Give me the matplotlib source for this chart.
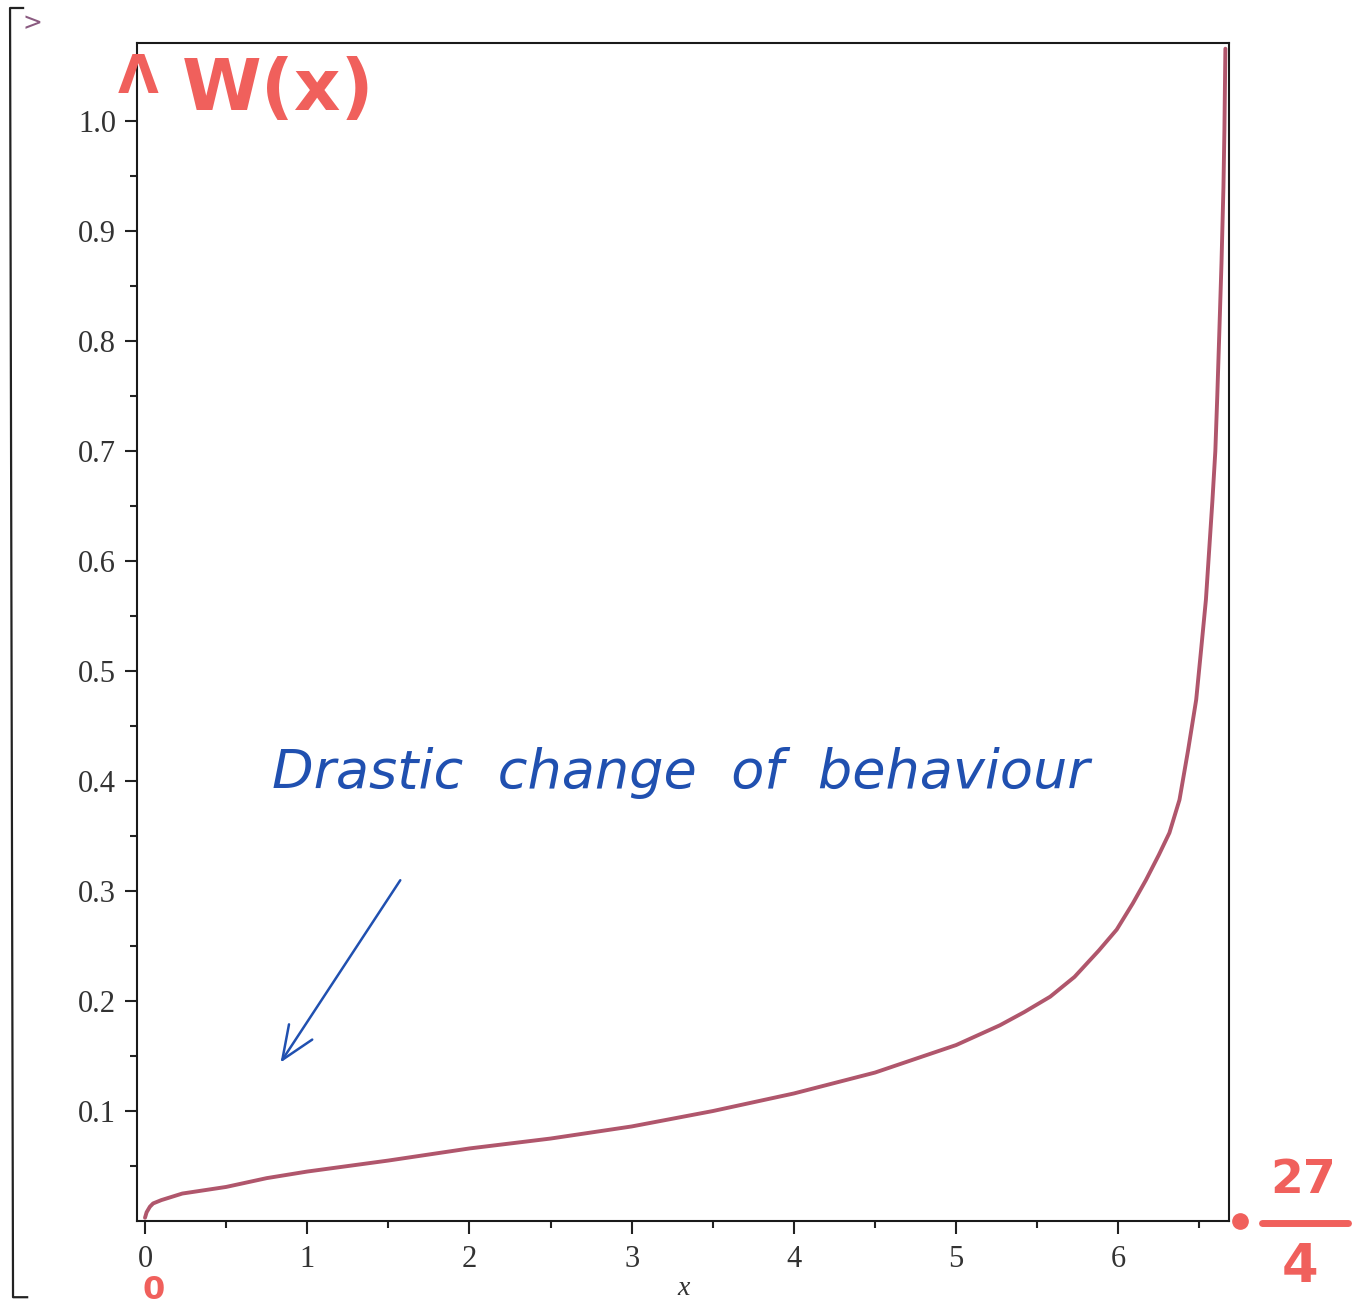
import numpy as np
import matplotlib
matplotlib.use('Agg')
import matplotlib.pyplot as plt
from matplotlib.lines import Line2D

## curve ##
x_vals = [0.0, 0.01, 0.03, 0.05, 0.1, 0.23, 0.5, 0.75, 1.0, 1.5, 2.0, 2.5, 3.0, 3.5,
          4.0, 4.5, 5.0, 5.27, 5.42, 5.58, 5.73, 5.88, 5.99, 6.09, 6.17, 6.25, 6.315,
          6.377, 6.43, 6.48, 6.51, 6.54, 6.56, 6.58, 6.598, 6.61, 6.623, 6.636, 6.648,
          6.654, 6.66]
w_vals = [0.003, 0.008, 0.013, 0.016, 0.019, 0.025, 0.031, 0.039, 0.045, 0.055, 0.066,
          0.075, 0.086, 0.100, 0.116, 0.135, 0.160, 0.178, 0.190, 0.204, 0.222, 0.246,
          0.265, 0.289, 0.310, 0.333, 0.353, 0.383, 0.428, 0.474, 0.519, 0.565, 0.610,
          0.655, 0.700, 0.750, 0.810, 0.871, 0.940, 0.992, 1.066]

xticks = [0, 1, 2, 3, 4, 5, 6]
yticks = [0.1, 0.2, 0.3, 0.4, 0.5, 0.6, 0.7, 0.8, 0.9, 1.0]
end_pt = 27 / 4

curve_col = '#b0566c'
pen_red = '#f0605c'
pen_blue = '#2050b0'

fig = plt.figure(figsize=(13.57, 13.09), dpi=100)
ax = fig.add_axes([0.101, 0.0672, 0.805, 0.8998])

ax.plot(x_vals, w_vals, color=curve_col, lw=2.8, solid_capstyle='round',
        solid_joinstyle='round')
ax.set_xlim(-0.049, 6.685)
ax.set_ylim(0, 1.071)

ax.set_xticks(xticks)
ax.set_xticks(np.arange(0.5, 6.6, 1.0), minor=True)
ax.set_yticks(yticks)
ax.set_yticks(np.arange(0.05, 1.06, 0.1), minor=True)
ax.set_yticklabels(['%.1f' % v for v in yticks])
ax.tick_params(which='major', length=9, width=1.5, direction='out', colors='#222222',
               labelsize=22, pad=6)
ax.tick_params(which='minor', length=5, width=1.5, direction='out', colors='#222222')
ax.tick_params(axis='x', which='major', pad=8)
for lab in ax.get_xticklabels() + ax.get_yticklabels():
    lab.set_family('Liberation Serif')
    lab.set_color('#333333')
for sp in ax.spines.values():
    sp.set_linewidth(1.5)
    sp.set_color('#1a1a1a')
ax.set_xlabel('x', fontsize=20, family='Liberation Serif', style='italic',
              color='#333333', labelpad=2)

# hand-written annotations
ax.plot([end_pt], [0], 'o', color=pen_red, ms=11, clip_on=False)
ax.annotate('', xy=(0.826, 0.142), xytext=(1.583, 0.312),
            arrowprops=dict(arrowstyle='->,head_length=2.4,head_width=1.0',
                            color=pen_blue, lw=1.8))
ax.text(0.78, 0.394, 'Drastic  change  of  behaviour', fontsize=39, color=pen_blue,
        style='italic', family='DejaVu Sans', ha='left', va='baseline')

fig.text(0.1017, 0.9404, '\u039b', fontsize=38, color=pen_red, ha='center', va='center',
         fontweight='bold')
fig.text(0.205, 0.931, 'W(x)', fontsize=52, color=pen_red, ha='center', va='center',
         fontweight='bold')
fig.text(0.113, 0.002, '0', fontsize=23, color=pen_red, ha='center', va='bottom',
         fontweight='bold')
fig.text(0.96, 0.098, '27', fontsize=34, color=pen_red, ha='center', va='center',
         fontweight='bold')
fig.text(0.958, 0.032, '4', fontsize=38, color=pen_red, ha='center', va='center',
         fontweight='bold')
fig.add_artist(Line2D([0.93, 0.993], [0.066, 0.066], color=pen_red, lw=5,
                      solid_capstyle='round'))

# Maple worksheet bracket and prompt
fig.add_artist(Line2D([0.017, 0.0074, 0.0096, 0.02], [0.9939, 0.9939, 0.009, 0.009],
                      color='#222222', lw=1.6))
fig.text(0.024, 0.982, '>', fontsize=17, color='#8a5a80', ha='center', va='center')

plt.savefig('out.png', dpi=100)
